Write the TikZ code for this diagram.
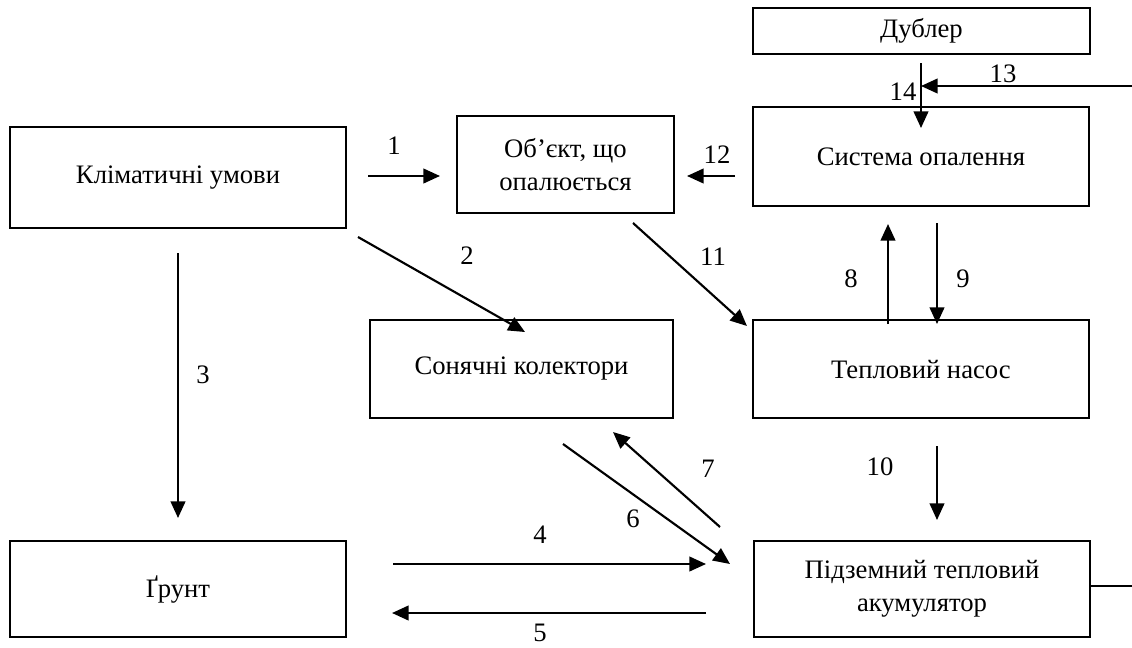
\documentclass[tikz,border=0pt]{standalone}
\usepackage{fontspec}
\setmainfont{Liberation Serif}
\usetikzlibrary{arrows.meta}
\begin{document}
\begin{tikzpicture}[x=0.75pt,y=-0.75pt,
  txt/.style={font=\fontsize{20}{25}\selectfont},
  box/.style={txt,draw,line width=1.4pt,inner sep=0pt,align=center},
  lab/.style={txt,inner sep=0pt},
  arr/.style={line width=1.6pt,-{Triangle[length=12.5pt,width=11pt]}},
  ln/.style={line width=1.6pt}]
\useasboundingbox (0,0) rectangle (1132,647);
% boxes
\node[box,minimum width=336*0.75pt,minimum height=101*0.75pt] (klim) at (178,177.5) {Кліматичні умови};
\node[box,minimum width=217*0.75pt,minimum height=97*0.75pt] (obj) at (565.5,164.5) {Об’єкт, що\\опалюється};
\node[box,minimum width=336*0.75pt,minimum height=99*0.75pt] (sys) at (921,156.5) {Система опалення};
\node[box,minimum width=337*0.75pt,minimum height=46*0.75pt] (dub) at (921.5,31) {Дублер};
\node[box,minimum width=303*0.75pt,minimum height=98*0.75pt] (son) at (521.5,369) {Сонячні колектори};
\node[box,minimum width=336*0.75pt,minimum height=98*0.75pt] (nas) at (921,369) {Тепловий насос};
\node[box,minimum width=336*0.75pt,minimum height=96*0.75pt] (grunt) at (178,589) {Ґрунт};
\node[box,minimum width=336*0.75pt,minimum height=96*0.75pt] (akum) at (922,589) {Підземний тепловий\\акумулятор};
% connector end points
\coordinate (a1s) at (368,176); \coordinate (a1e) at (440,176);
\coordinate (a12s) at (735,176); \coordinate (a12e) at (687,176);
\coordinate (a2s) at (358,237); \coordinate (a2e) at (525,332);
\coordinate (a11s) at (633,223); \coordinate (a11e) at (747,326);
\coordinate (a3s) at (178,253); \coordinate (a3e) at (178,518);
\coordinate (a14s) at (921,63); \coordinate (a14e) at (921,128);
\coordinate (a13s) at (1132,86); \coordinate (a13e) at (921,86);
\coordinate (a8s) at (888,324); \coordinate (a8e) at (888,224);
\coordinate (a9s) at (937,223); \coordinate (a9e) at (937,324);
\coordinate (a10s) at (937,446); \coordinate (a10e) at (937,520);
\coordinate (a7s) at (720,527); \coordinate (a7e) at (613,432);
\coordinate (a6s) at (563,444); \coordinate (a6e) at (730,564);
\coordinate (a4s) at (393,564); \coordinate (a4e) at (706,564);
\coordinate (a5s) at (706,613); \coordinate (a5e) at (392,613);
\coordinate (out) at (1132,586);
% connectors
\draw[arr] (a1s) -- (a1e);
\draw[arr] (a12s) -- (a12e);
\draw[arr] (a2s) -- (a2e);
\draw[arr] (a11s) -- (a11e);
\draw[arr] (a3s) -- (a3e);
\draw[arr] (a14s) -- (a14e);
\draw[arr] (a13s) -- (a13e);
\draw[arr] (a8s) -- (a8e);
\draw[arr] (a9s) -- (a9e);
\draw[arr] (a10s) -- (a10e);
\draw[arr] (a7s) -- (a7e);
\draw[arr] (a6s) -- (a6e);
\draw[arr] (a4s) -- (a4e);
\draw[arr] (a5s) -- (a5e);
\draw[ln] (akum.east |- out) -- (out);
% labels
\node[lab] (l1) at (394,146) {1};
\node[lab] (l12) at (717,155) {12};
\node[lab] (l2) at (467,256) {2};
\node[lab] (l11) at (713,257) {11};
\node[lab] (l3) at (203,375) {3};
\node[lab] (l14) at (903,92) {14};
\node[lab] (l13) at (1003,74) {13};
\node[lab] (l8) at (851,279) {8};
\node[lab] (l9) at (963,279) {9};
\node[lab] (l10) at (880,467) {10};
\node[lab] (l7) at (708,469) {7};
\node[lab] (l6) at (633,519) {6};
\node[lab] (l4) at (540,535) {4};
\node[lab] (l5) at (540,633) {5};
\end{tikzpicture}
\end{document}
